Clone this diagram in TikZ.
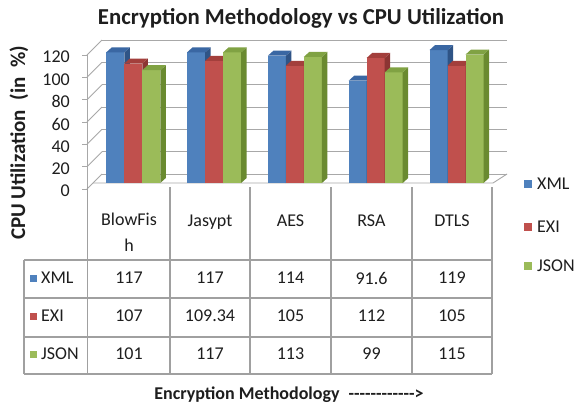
\documentclass[tikz,border=0pt]{standalone}
\usepackage{fontspec}
\setmainfont{Carlito}
\definecolor{xmlc}{HTML}{4F81BD}
\definecolor{xmls}{HTML}{2F5486}
\definecolor{xmlt}{HTML}{3A67A3}
\definecolor{exic}{HTML}{C0504D}
\definecolor{exis}{HTML}{8C3533}
\definecolor{exit}{HTML}{A33F3C}
\definecolor{jsonc}{HTML}{9BBB59}
\definecolor{jsons}{HTML}{6A8A30}
\definecolor{jsont}{HTML}{80A243}
\definecolor{gridgray}{HTML}{A8A8A8}
\definecolor{tablegray}{HTML}{A0A0A0}
\definecolor{txt}{HTML}{1E1E1E}
% one 3-D column: left x, value, front / side / top colours
\newcommand\colbar[5]{%
  \pgfmathsetmacro\bartop{183-1.11667*#2}%
  \fill[#3] (#1,183) rectangle (#1+18,\bartop);
  \fill[#4] (#1+18,183) -- (#1+23.5,178) -- (#1+23.5,\bartop-5) -- (#1+18,\bartop) -- cycle;
  \fill[#5] (#1,\bartop) -- (#1+18,\bartop) -- (#1+23.5,\bartop-5) -- (#1+5.5,\bartop-5) -- cycle;
}
\begin{document}
\begin{tikzpicture}[x=1pt,y=-1pt,
  gridline/.style={draw=gridgray, line width=0.9pt},
  tableline/.style={draw=tablegray, line width=1.3pt},
  lbl/.style={font=\fontsize{18}{21}\selectfont, text=txt, inner sep=0pt},
  ticklbl/.style={font=\fontsize{18}{21}\selectfont, text=txt, inner sep=0pt, anchor=east},
  boldlbl/.style={font=\bfseries\fontsize{18}{21}\selectfont, text=txt, inner sep=0pt},
  keybox/.style={inner sep=0pt, minimum width=7pt, minimum height=7pt}]
\fill[white] (0,0) rectangle (578,408);
\useasboundingbox (0,0) rectangle (578,408);

% title
\node[font=\bfseries\fontsize{22.8}{26}\selectfont, text=txt, inner sep=0pt] (title) at (301,18)
  {Encryption Methodology vs CPU Utilization};

% back wall grid, side wall and value ticks
\foreach \k in {0,...,6}{
  \pgfmathsetmacro\yb{174-22.333*\k}
  \draw[gridline] (102,\yb) -- (507,\yb);
  \draw[gridline] (87,\yb+15) -- (102,\yb);
  \draw[gridline] (82,\yb+15) -- (87,\yb+15);
}
\foreach \v [count=\k from 0] in {0,20,40,60,80,100,120}{
  \node[ticklbl] (tick\v) at (70,{191-22.333*\k}) {\v};
}
% floor edges
\draw[gridline] (93,183) -- (493,183) -- (507,174);

% columns
\foreach \g/\va/\vb/\vc in {0/117/107/101,1/117/109.34/117,2/114/105/113,3/91.6/112/99,4/119/105/115}{
  \pgfmathsetmacro\bx{106.3+80.8*\g}
  \colbar{\bx}{\va}{xmlc}{xmls}{xmlt}
  \colbar{\bx+18}{\vb}{exic}{exis}{exit}
  \colbar{\bx+36}{\vc}{jsonc}{jsons}{jsont}
}

% front axis and data table grid
\draw[gridline] (87.5,55) -- (87.5,189);
\draw[tableline] (87.5,187) -- (87.5,374);
\foreach \x in {170,250,331,412,492}{
  \draw[tableline] (\x,187) -- (\x,374);
}
\foreach \y in {260,298,337,374}{
  \draw[tableline] (24,\y) -- (492,\y);
}
\draw[tableline] (24,260) -- (24,374);

% category headers
\node[lbl, align=center, anchor=north, font=\fontsize{18}{26}\selectfont] (cat1) at (129,213) {BlowFis\\h};
\node[lbl, anchor=base] (cat2) at (210,226) {Jasypt};
\node[lbl, anchor=base] (cat3) at (290.5,226) {AES};
\node[lbl, anchor=base] (cat4) at (371.5,226) {RSA};
\node[lbl, anchor=base] (cat5) at (452,226) {DTLS};

% series rows
\foreach \r/\nm/\col/\y in {1/XML/xmlc/278,2/EXI/exic/316,3/JSON/jsonc/354}{
  \node[keybox, fill=\col] (rowkey\r) at (33.5,\y) {};
  \node[lbl, anchor=west] (rowname\r) at (41,\y) {\nm};
}
\foreach \r/\y/\a/\b/\c/\d/\e in {1/278/117/117/114/91.6/119, 2/316/107/109.34/105/112/105, 3/354/101/117/113/99/115}{
  \node[lbl] (val\r a) at (129,\y) {\a};
  \node[lbl] (val\r b) at (210,\y) {\b};
  \node[lbl] (val\r c) at (290.5,\y) {\c};
  \node[lbl] (val\r d) at (371.5,\y) {\d};
  \node[lbl] (val\r e) at (452,\y) {\e};
}

% legend
\foreach \r/\nm/\col/\y in {1/XML/xmlc/184,2/EXI/exic/227,3/JSON/jsonc/266}{
  \node[keybox, fill=\col, minimum width=8pt, minimum height=8pt] (key\r) at (528,\y) {};
  \node[lbl, anchor=west] (keyname\r) at (537,\y) {\nm};
}

% axis titles
\node[boldlbl, rotate=90, font=\bfseries\fontsize{21}{24}\selectfont] (ytitle) at (19,143)
  {CPU Utilization\hspace{0.45em}(in\hspace{0.45em}\%)};
\node[boldlbl] (xtitle) at (289,395)
  {Encryption Methodology\enspace{-}{-}{-}{-}{-}{-}{-}{-}{-}{-}{-}{-}>};
\end{tikzpicture}
\end{document}
